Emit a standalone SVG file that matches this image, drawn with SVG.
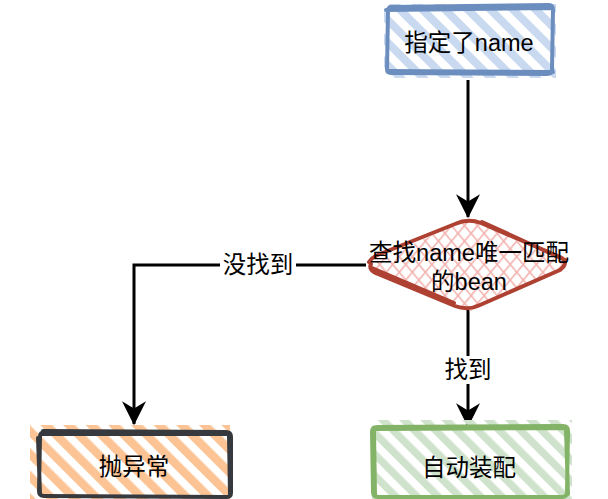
<svg xmlns="http://www.w3.org/2000/svg" width="608" height="499" viewBox="0 0 608 499">
  <defs>
    <pattern id="hBlue" width="16" height="16" patternUnits="userSpaceOnUse" patternTransform="rotate(-45)">
      <rect x="0" y="0" width="8" height="16" fill="#c9d9f0"/>
    </pattern>
    <pattern id="hOrange" width="16" height="16" patternUnits="userSpaceOnUse" patternTransform="rotate(-45)">
      <rect x="0" y="0" width="8.5" height="16" fill="#fcc494"/>
    </pattern>
    <pattern id="hGreen" width="15" height="15" patternUnits="userSpaceOnUse" patternTransform="rotate(-45)">
      <rect x="0" y="0" width="7.5" height="15" fill="#cfe3cc"/>
    </pattern>
    <pattern id="hRedA" width="10" height="10" patternUnits="userSpaceOnUse" patternTransform="rotate(-40)">
      <rect x="0" y="0" width="1.6" height="10" fill="#f2b3b0"/>
    </pattern>
    <pattern id="hRedB" width="10" height="10" patternUnits="userSpaceOnUse" patternTransform="rotate(40)">
      <rect x="0" y="0" width="1.6" height="10" fill="#f2b3b0"/>
    </pattern>
    <marker id="arrBig" viewBox="0 0 10 10" refX="9.5" refY="5" markerWidth="24" markerHeight="24" markerUnits="userSpaceOnUse" orient="auto">
      <path d="M0,0 L10,5 L0,10 L3,5 z" fill="#000"/>
    </marker>
    <style>
      .lbl { font-family: "Liberation Sans", "Noto Sans CJK SC", sans-serif; font-size: 23.5px; fill: #000; text-anchor: middle; }
      .conn { fill: none; stroke: #000; stroke-width: 3; }
      .rough { fill: none; stroke-width: 4; stroke-linejoin: round; stroke-linecap: round; }
    </style>
  </defs>

  <g id="connectors">
    <path class="conn" d="M468,80 L468,217" marker-end="url(#arrBig)"/>
    <path class="conn" d="M366,265 L134,265 L134,424" marker-end="url(#arrBig)"/>
    <path class="conn" d="M468,310 L468,426" marker-end="url(#arrBig)"/>
    <rect x="220" y="252" width="76" height="28" fill="#fff"/>
    <text class="lbl" x="258" y="273">没找到</text>
    <rect x="443" y="356" width="50" height="28" fill="#fff"/>
    <text class="lbl" x="468" y="378">找到</text>
  </g>

  <g id="node-name">
    <rect x="384" y="4" width="172" height="74" fill="url(#hBlue)"/>
    <path class="rough" stroke="#6c8ebf" d="M390,7 L549,5 Q553,5 553,10 L552,70 Q552,74 547,74 L391,73 Q387,73 387,69 L388,11 Q388,7 392,7 M386,10 L551,8 M389,71 L553,72"/>
    <text class="lbl" x="469" y="51">指定了name</text>
  </g>

  <g id="node-decision">
    <path d="M368,266 L468,218 L570,266 L468,312 Z" fill="url(#hRedA)"/>
    <path d="M368,266 L468,218 L570,266 L468,312 Z" fill="url(#hRedB)"/>
    <path class="rough" stroke="#ae4132" d="M369,262 Q372,257 380,254 L455,224 Q468,218 481,223 L560,257 Q570,262 560,270 L480,305 Q468,311 455,306 L378,274 Q368,270 371,264 M372,268 L454,303 M482,222 L565,260"/>
    <text class="lbl" x="469" y="261">查找name唯一匹配</text>
    <text class="lbl" x="469" y="290">的bean</text>
  </g>

  <g id="node-exception">
    <rect x="30" y="425" width="200" height="80" fill="url(#hOrange)"/>
    <path class="rough" stroke="#36393d" d="M43,431 L226,432 Q231,432 231,437 L231,493 Q231,497 226,497 L44,496 Q39,496 39,491 L40,437 Q40,432 45,432 M41,434 L228,434 M38,438 L40,494 M229,436 L230,495"/>
    <text class="lbl" x="134" y="475">抛异常</text>
  </g>

  <g id="node-autowire">
    <rect x="372" y="420" width="200" height="85" fill="url(#hGreen)"/>
    <path class="rough" stroke="#82b366" d="M377,427 L563,426 Q568,426 568,431 L567,492 Q567,497 562,497 L378,497 Q373,497 373,492 L372,432 Q372,427 377,427 M375,429 L566,428 M374,430 L375,495 M566,430 L568,494"/>
    <text class="lbl" x="469" y="476">自动装配</text>
  </g>
</svg>
